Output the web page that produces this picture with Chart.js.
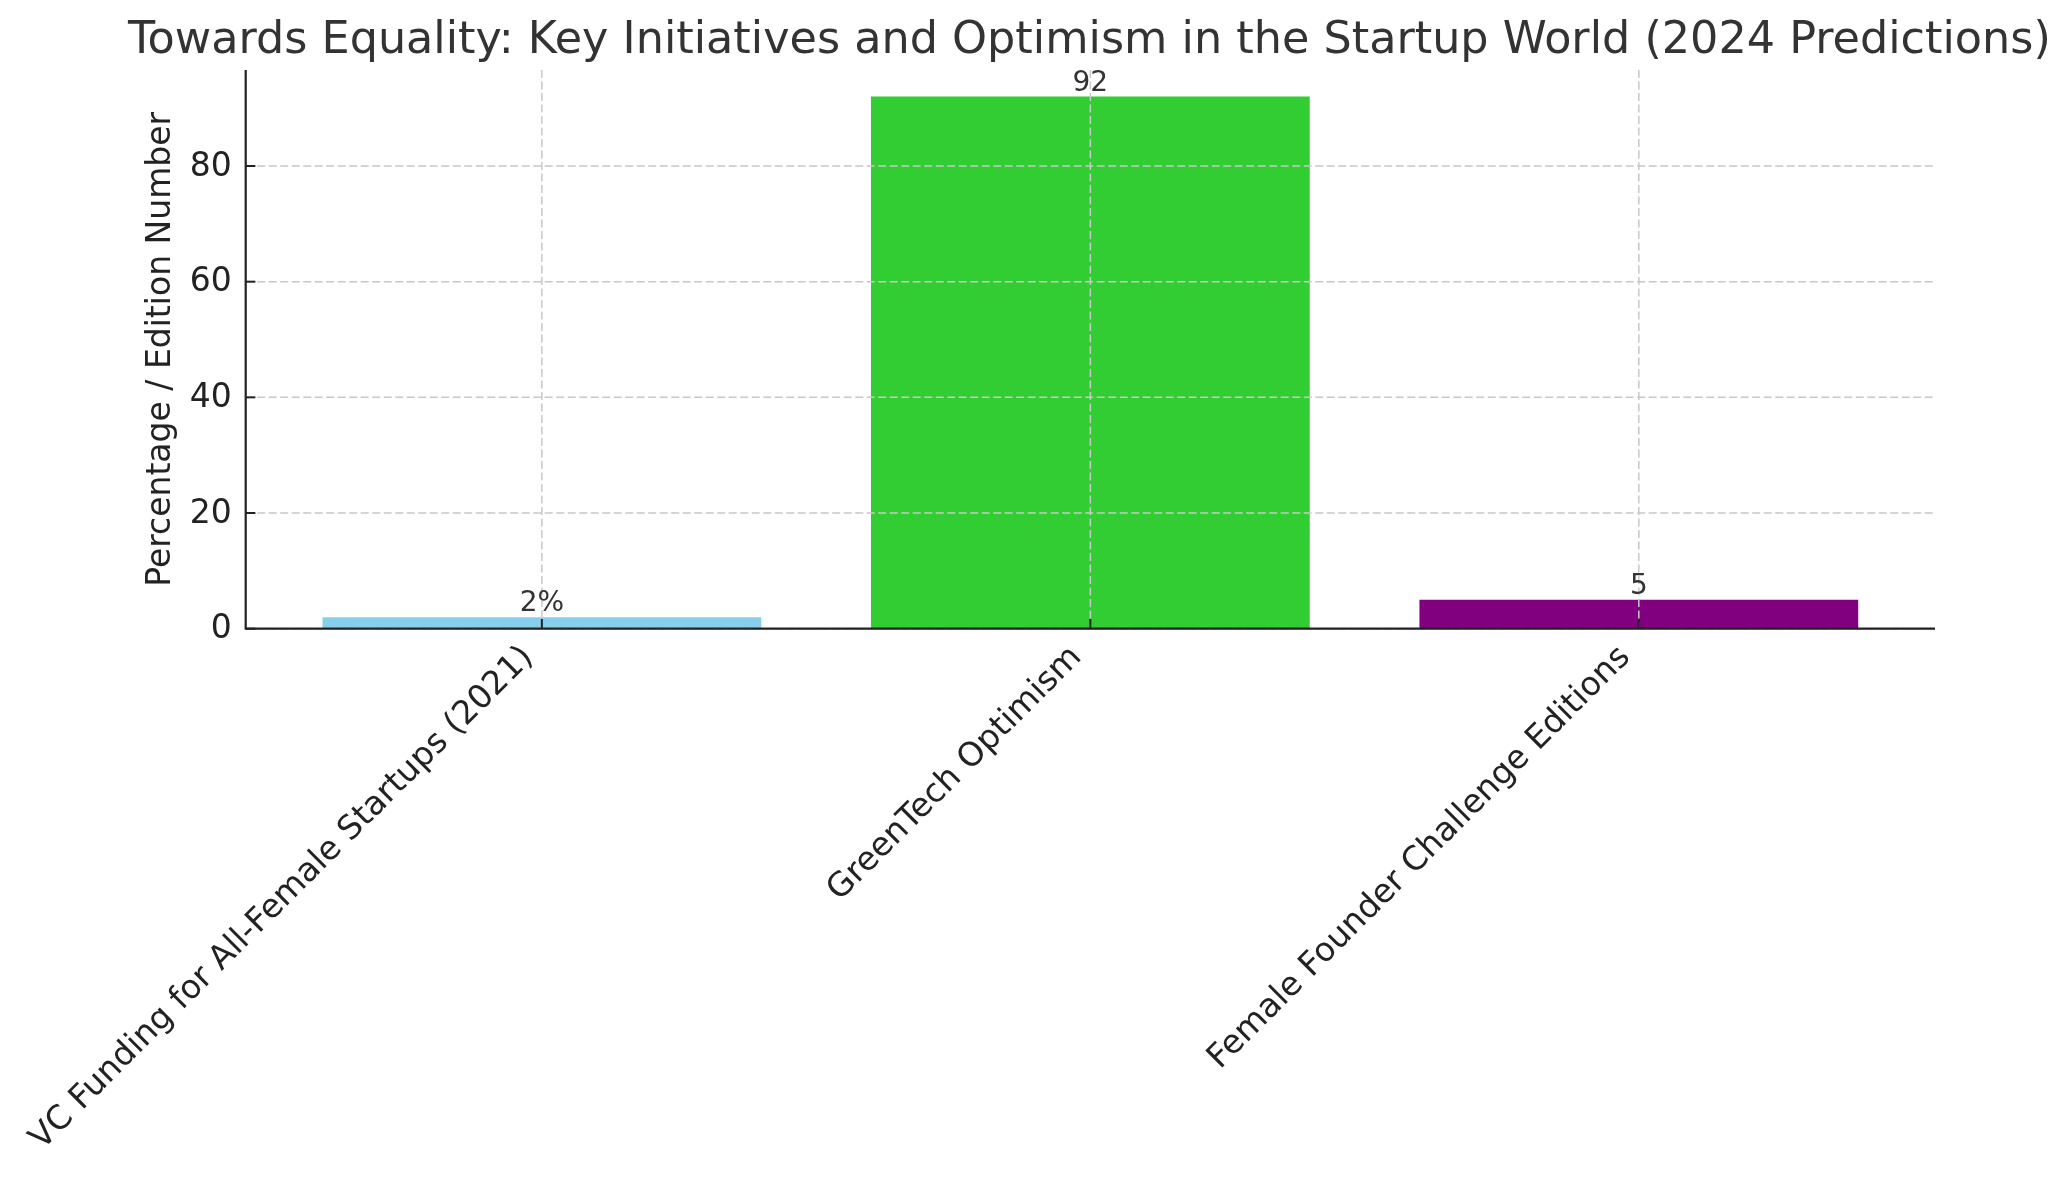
<!DOCTYPE html>
<html>
<head>
<meta charset="utf-8">
<script src="https://cdn.jsdelivr.net/npm/chart.js@4"></script>
<style>
html,body{margin:0;padding:0;background:#fff;}
#wrap{width:2071px;height:1180px;position:relative;}
</style>
</head>
<body>
<div id="wrap"><canvas id="c" width="2071" height="1180"></canvas></div>
<script>
// ---- data ----
const categories = ['VC Funding for All-Female Startups (2021)', 'GreenTech Optimism', 'Female Founder Challenge Editions'];
const values = [2, 92, 5];
const valueLabels = ['2%', '92', '5'];
const barColors = ['#87CEEB', '#32CD32', '#800080'];
const yTicks = [0, 20, 40, 60, 80];
const titleText = 'Towards Equality: Key Initiatives and Optimism in the Startup World (2024 Predictions)';
const yAxisTitle = 'Percentage / Edition Number';

const FONT = '"DejaVu Sans", sans-serif';
const AXIS_COLOR = '#222222';
const GRID_COLOR = '#c8c8c8';

const overlay = {
  id: 'overlay',
  afterDatasetsDraw(chart) {
    const ctx = chart.ctx;
    const a = chart.chartArea;
    const xs = chart.scales.x, ys = chart.scales.y;
    ctx.save();
    // grid (drawn above bars like matplotlib)
    ctx.strokeStyle = GRID_COLOR;
    ctx.lineWidth = 1.5;
    ctx.setLineDash([8, 3.5]);
    categories.forEach((c, i) => {
      const x = xs.getPixelForValue(i);
      ctx.beginPath(); ctx.moveTo(x, a.top); ctx.lineTo(x, a.bottom); ctx.stroke();
    });
    yTicks.forEach(v => {
      const y = ys.getPixelForValue(v);
      ctx.beginPath(); ctx.moveTo(a.left, y); ctx.lineTo(a.right, y); ctx.stroke();
    });
    ctx.setLineDash([]);
    // spines
    ctx.strokeStyle = AXIS_COLOR;
    ctx.lineWidth = 2.2;
    ctx.beginPath();
    ctx.moveTo(a.left, a.top); ctx.lineTo(a.left, a.bottom); ctx.lineTo(a.right, a.bottom);
    ctx.stroke();
    // inward ticks
    ctx.lineWidth = 2;
    categories.forEach((c, i) => {
      const x = xs.getPixelForValue(i);
      ctx.beginPath(); ctx.moveTo(x, a.bottom); ctx.lineTo(x, a.bottom - 9.7); ctx.stroke();
    });
    yTicks.forEach(v => {
      const y = ys.getPixelForValue(v);
      ctx.beginPath(); ctx.moveTo(a.left, y); ctx.lineTo(a.left + 9.7, y); ctx.stroke();
    });
    // y tick labels
    ctx.fillStyle = AXIS_COLOR;
    ctx.font = '33px ' + FONT;
    ctx.textAlign = 'right';
    ctx.textBaseline = 'middle';
    yTicks.forEach(v => {
      ctx.fillText(String(v), a.left - 14, ys.getPixelForValue(v) + 1);
    });
    // x tick labels rotated 45
    const h = 33 * 1.164;
    const off = 0.354 * h;
    categories.forEach((c, i) => {
      const x = xs.getPixelForValue(i);
      ctx.save();
      ctx.translate(x - off, a.bottom + 10 + off);
      ctx.rotate(-Math.PI / 4);
      ctx.textAlign = 'right';
      ctx.textBaseline = 'middle';
      ctx.fillText(c, 0, 0);
      ctx.restore();
    });
    // y axis title
    ctx.save();
    ctx.translate(161, (a.top + a.bottom) / 2);
    ctx.rotate(-Math.PI / 2);
    ctx.textAlign = 'center';
    ctx.textBaseline = 'middle';
    ctx.fillText(yAxisTitle, 0, 0);
    ctx.restore();
    // value labels
    ctx.fillStyle = '#333333';
    ctx.font = '28px ' + FONT;
    ctx.textAlign = 'center';
    ctx.textBaseline = 'alphabetic';
    values.forEach((v, i) => {
      ctx.fillText(valueLabels[i], xs.getPixelForValue(i), ys.getPixelForValue(v) - 6);
    });
    // title
    ctx.fillStyle = '#333333';
    ctx.font = '44.5px ' + FONT;
    ctx.textAlign = 'center';
    ctx.fillText(titleText, (a.left + a.right) / 2 - 1, 53);
    ctx.restore();
  }
};

new Chart(document.getElementById('c'), {
  type: 'bar',
  data: {
    datasets: [{
      data: values.map((v, i) => ({ x: i, y: v })),
      backgroundColor: barColors,
      borderWidth: 0,
      barPercentage: 0.8,
      categoryPercentage: 1.0
    }]
  },
  options: {
    responsive: false,
    devicePixelRatio: 1,
    animation: false,
    layout: { padding: { left: 0, right: 136, top: 70, bottom: 0 } },
    plugins: { legend: { display: false }, title: { display: false }, tooltip: { enabled: false } },
    scales: {
      x: {
        type: 'linear',
        offset: false,
        min: -0.54, max: 2.54,
        afterBuildTicks: s => { s.ticks = categories.map((c, i) => ({ value: i })); },
        afterFit: s => { s.height = 551.3; },
        ticks: { display: false },
        grid: { display: false, drawTicks: false, offset: false },
        border: { display: false }
      },
      y: {
        min: 0, max: 96.6,
        afterBuildTicks: s => { s.ticks = yTicks.map(v => ({ value: v })); },
        afterFit: s => { s.width = 245.7; },
        ticks: { display: false },
        grid: { display: false, drawTicks: false },
        border: { display: false }
      }
    }
  },
  plugins: [overlay]
});
</script>
</body>
</html>
